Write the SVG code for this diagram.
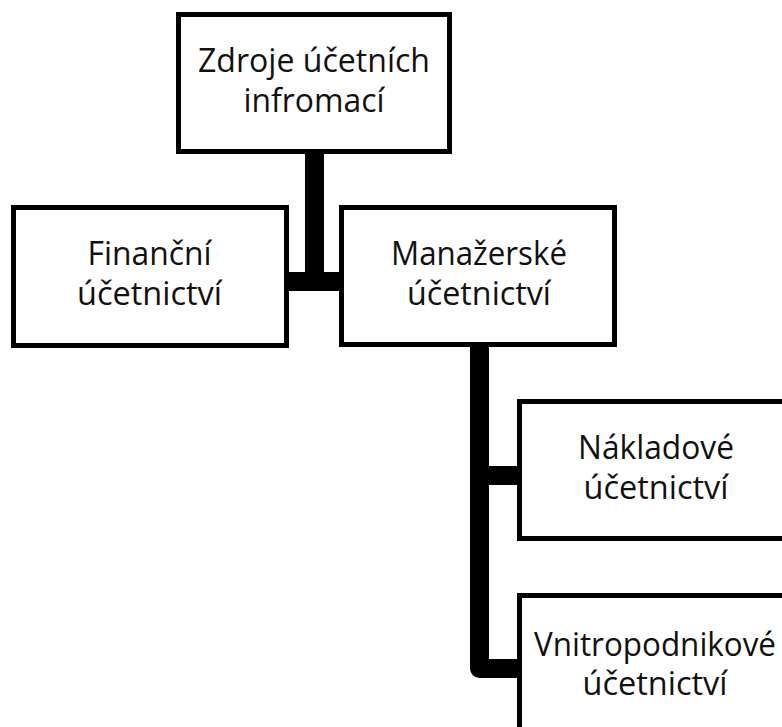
<svg xmlns="http://www.w3.org/2000/svg" width="782" height="727" viewBox="0 0 782 727">
<style>
.box{fill:#fff;stroke:#000;stroke-width:5}
.lbl{font-family:"Open Sans","Noto Sans","DejaVu Sans",sans-serif;font-size:32px;fill:#111;text-anchor:middle}
.con{fill:none;stroke:#000;stroke-width:19;stroke-linejoin:round}
</style>
<rect width="782" height="727" fill="#fff"/>
<g id="connectors">
<path class="con" d="M314.5,152 V281.5"/>
<path class="con" d="M287,281.5 H341"/>
<path class="con" d="M479.5,345 V668.5 H519"/>
<path class="con" d="M479.5,475.5 H519"/>
</g>
<g id="zdroje">
<rect class="box" x="178.5" y="14.5" width="271" height="137"/>
<text class="lbl" x="314" y="72" textLength="232" lengthAdjust="spacingAndGlyphs">Zdroje účetních</text>
<text class="lbl" x="314" y="112" textLength="141" lengthAdjust="spacingAndGlyphs">infromací</text>
</g>
<g id="financni">
<rect class="box" x="13.5" y="207.5" width="273" height="138"/>
<text class="lbl" x="149.5" y="265" textLength="124" lengthAdjust="spacingAndGlyphs">Finanční</text>
<text class="lbl" x="149.5" y="305" textLength="145" lengthAdjust="spacingAndGlyphs">účetnictví</text>
</g>
<g id="manazerske">
<rect class="box" x="341.5" y="207.5" width="273" height="137"/>
<text class="lbl" x="479" y="265" textLength="176" lengthAdjust="spacingAndGlyphs">Manažerské</text>
<text class="lbl" x="479" y="305" textLength="144" lengthAdjust="spacingAndGlyphs">účetnictví</text>
</g>
<g id="nakladove">
<rect class="box" x="519.5" y="401.5" width="275" height="137"/>
<text class="lbl" x="656" y="459" textLength="156" lengthAdjust="spacingAndGlyphs">Nákladové</text>
<text class="lbl" x="656" y="499" textLength="145" lengthAdjust="spacingAndGlyphs">účetnictví</text>
</g>
<g id="vnitropodnikove">
<rect class="box" x="519.5" y="595.5" width="275" height="137"/>
<text class="lbl" x="655" y="656" textLength="242" lengthAdjust="spacingAndGlyphs">Vnitropodnikové</text>
<text class="lbl" x="655" y="695" textLength="145" lengthAdjust="spacingAndGlyphs">účetnictví</text>
</g>
</svg>
